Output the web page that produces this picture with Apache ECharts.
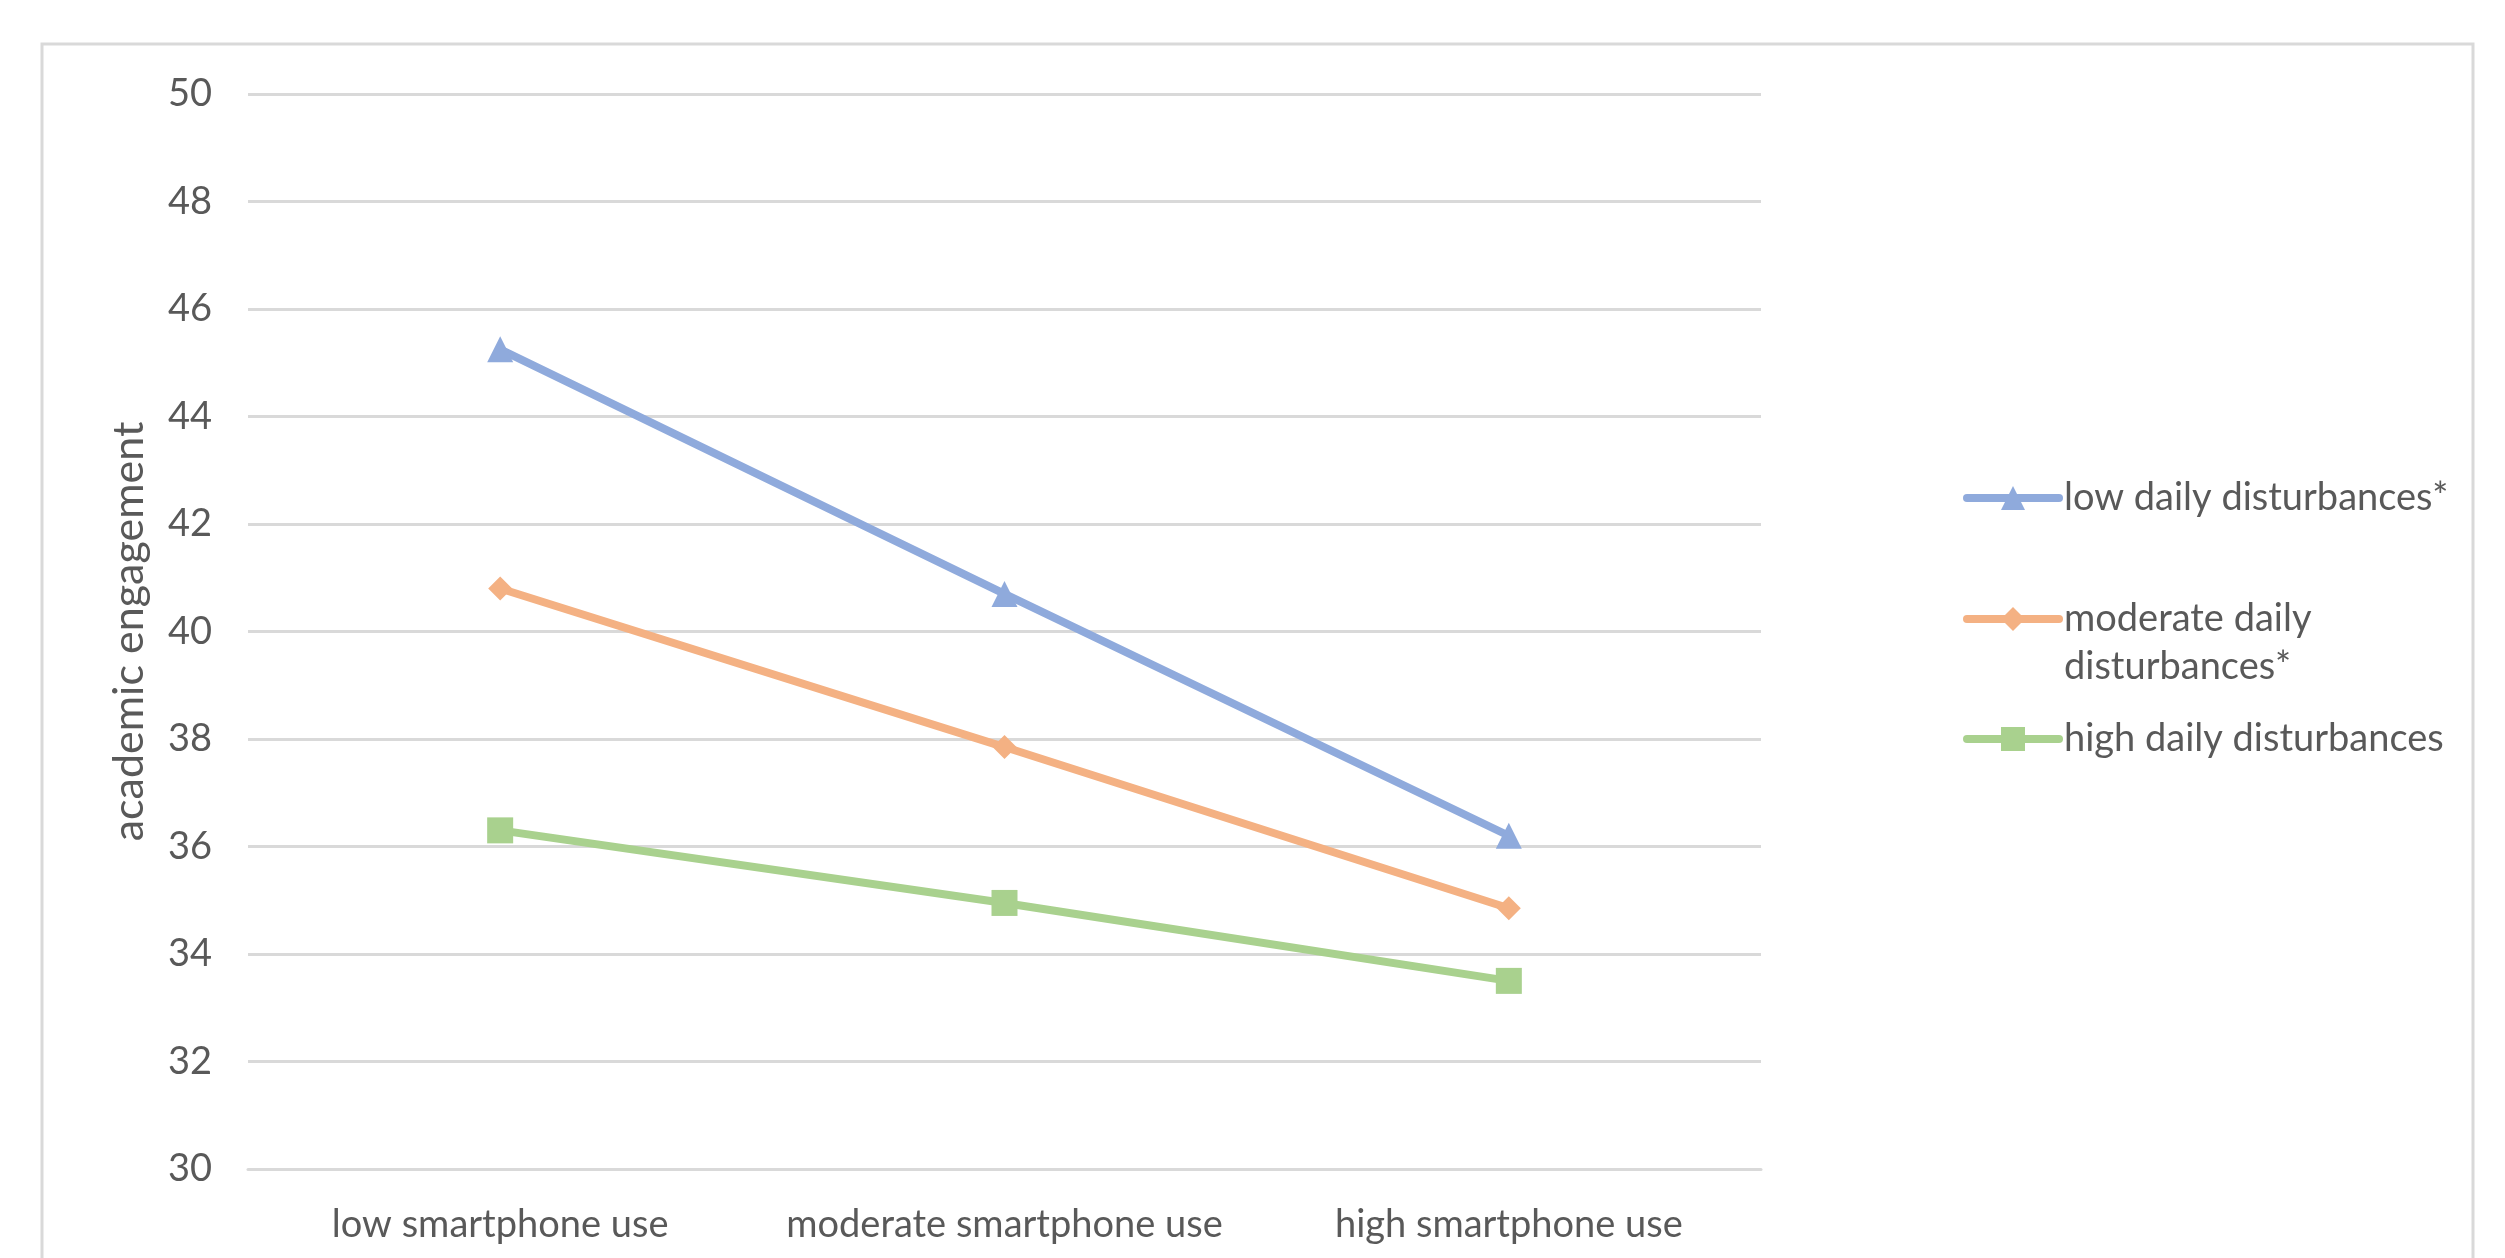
<!DOCTYPE html>
<html>
<head>
<meta charset="utf-8">
<title>Academic engagement by smartphone use</title>
<script src="https://cdn.jsdelivr.net/npm/echarts@6/dist/echarts.min.js"></script>
<style>
  html, body { margin: 0; padding: 0; background: #ffffff; }
  #chart { width: 2505px; height: 1258px; }
</style>
</head>
<body>
<div id="chart"></div>
<script>
// Categories along the x axis
const categories = ['low smartphone use', 'moderate smartphone use', 'high smartphone use'];

// Mean academic engagement for each level of daily disturbances
const lowDisturbances = [45.25, 40.7, 36.2];
const moderateDisturbances = [40.8, 37.85, 34.85];
const highDisturbances = [36.3, 34.95, 33.5];

// Series names (shown in the legend)
const seriesNames = ['low daily disturbances*', 'moderate daily disturbances*', 'high daily disturbances'];

// Value axis range
const yMin = 30, yMax = 50, yStep = 2;

const FONT = 'Lato';
const TEXT_COLOR = '#595959';
const GRID_COLOR = '#D9D9D9';
const colors = ['#8FAADC', '#F4B183', '#A9D18E'];

const chart = echarts.init(document.getElementById('chart'), null, { renderer: 'canvas' });

function makeSeries(name, data, color, symbol, size) {
  return {
    name: name,
    type: 'line',
    data: data,
    symbol: symbol,
    symbolSize: size,
    showSymbol: true,
    lineStyle: { color: color, width: 8, cap: 'round' },
    itemStyle: { color: color },
    emphasis: { disabled: true },
    animation: false,
    z: 3
  };
}

const legendBase = {
  orient: 'vertical',
  left: 1958,
  itemWidth: 92,
  itemHeight: 30,
  selectedMode: false,
  lineStyle: { width: 8, cap: 'round' },
  textStyle: { fontFamily: FONT, fontSize: 38, color: TEXT_COLOR, lineHeight: 48 }
};

chart.setOption({
  backgroundColor: '#ffffff',
  animation: false,
  color: colors,
  grid: { left: 248, right: 744, top: 94, bottom: 89, containLabel: false },
  graphic: [{
    type: 'rect',
    shape: { x: 42, y: 44, width: 2431, height: 1240 },
    style: { fill: 'none', stroke: GRID_COLOR, lineWidth: 3 },
    silent: true,
    z: -1
  }],
  legend: [
    Object.assign({}, legendBase, { top: 469, data: [seriesNames[0]] }),
    Object.assign({}, legendBase, {
      top: 542,
      data: [seriesNames[1]],
      // blank first line keeps "moderate daily" level with the icon
      formatter: function () { return ' \nmoderate daily\ndisturbances*'; }
    }),
    Object.assign({}, legendBase, { top: 710, data: [seriesNames[2]] })
  ],
  xAxis: {
    type: 'category',
    data: categories,
    boundaryGap: true,
    axisLine: { show: true, lineStyle: { color: GRID_COLOR, width: 3 } },
    axisTick: { show: false },
    axisLabel: { fontFamily: FONT, fontSize: 38, color: TEXT_COLOR, margin: 37, interval: 0 },
    splitLine: { show: false }
  },
  yAxis: {
    type: 'value',
    min: yMin,
    max: yMax,
    interval: yStep,
    name: 'academic engagement',
    nameLocation: 'middle',
    nameGap: 97,
    nameTextStyle: { fontFamily: FONT, fontSize: 43, color: TEXT_COLOR },
    axisLine: { show: false },
    axisTick: { show: false },
    axisLabel: { fontFamily: FONT, fontSize: 38, color: TEXT_COLOR, margin: 36 },
    splitLine: { show: true, lineStyle: { color: GRID_COLOR, width: 3 } }
  },
  series: [
    makeSeries(seriesNames[0], lowDisturbances, colors[0], 'triangle', 26),
    makeSeries(seriesNames[1], moderateDisturbances, colors[1], 'diamond', 24),
    makeSeries(seriesNames[2], highDisturbances, colors[2], 'rect', 26)
  ]
});
</script>
</body>
</html>
